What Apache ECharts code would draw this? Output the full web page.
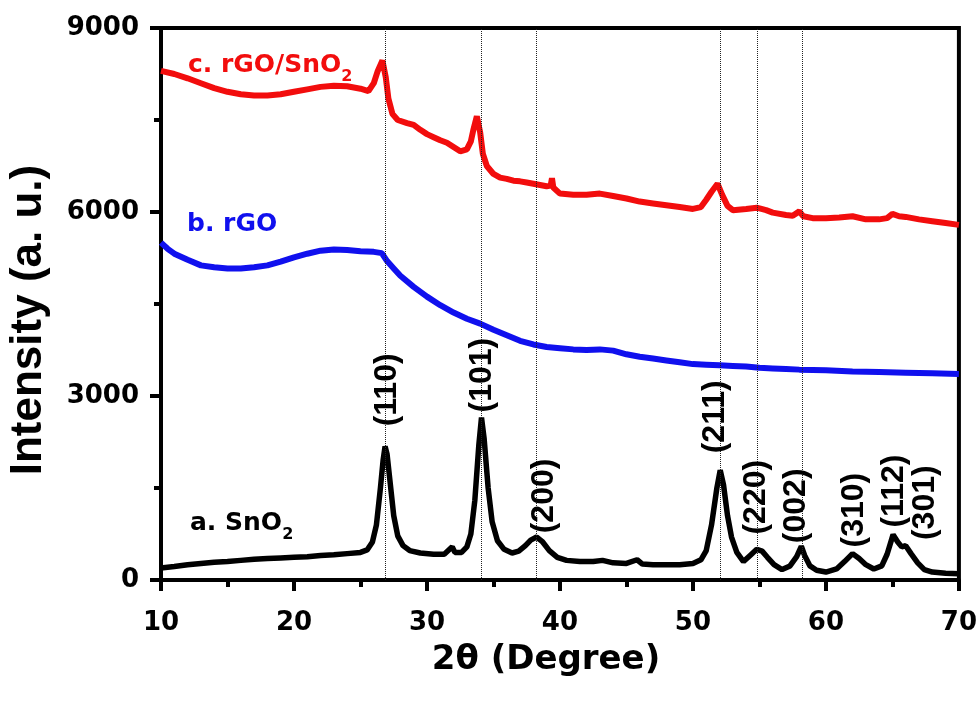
<!DOCTYPE html>
<html>
<head>
<meta charset="utf-8">
<script src="https://cdn.jsdelivr.net/npm/echarts@6/dist/echarts.min.js"></script>
<style>
  html, body { margin: 0; padding: 0; background: #fff; }
  #chart { width: 980px; height: 704px; }
</style>
</head>
<body>
<div id="chart"></div>
<script>
// XRD patterns: [2θ, intensity]
const sno2 = [
  [10.0, 195], [11.0, 220], [12.0, 250], [13.0, 270], [14.0, 290], [15.0, 300],
  [16.0, 320], [17.0, 340], [18.0, 350], [19.0, 360], [20.0, 370], [21.0, 380],
  [22.0, 400], [23.0, 410], [24.0, 430], [25.0, 450], [25.5, 490], [25.9, 620],
  [26.2, 900], [26.5, 1500], [26.7, 1950], [26.85, 2180], [27.0, 2050], [27.2, 1650],
  [27.5, 1050], [27.8, 720], [28.2, 560], [28.7, 480], [29.5, 440], [30.5, 420],
  [31.3, 420], [31.7, 500], [31.9, 540], [32.1, 450], [32.6, 450], [33.0, 540],
  [33.3, 750], [33.6, 1300], [33.9, 2200], [34.1, 2650], [34.3, 2300], [34.6, 1500],
  [34.9, 950], [35.3, 640], [35.8, 500], [36.4, 440], [36.9, 470], [37.4, 560],
  [37.8, 650], [38.25, 700], [38.7, 620], [39.2, 480], [39.8, 370], [40.5, 320],
  [41.5, 300], [42.5, 300], [43.2, 320], [44.0, 280], [45.0, 270], [45.8, 330],
  [46.2, 260], [47.0, 250], [48.0, 250], [49.0, 250], [50.0, 270], [50.6, 330],
  [51.0, 480], [51.4, 900], [51.8, 1500], [52.05, 1790], [52.3, 1550], [52.6, 1050],
  [52.9, 700], [53.3, 450], [53.8, 300], [54.3, 400], [54.8, 500], [55.2, 470],
  [55.6, 370], [56.1, 250], [56.7, 170], [57.3, 230], [57.8, 380], [58.15, 550],
  [58.4, 400], [58.8, 230], [59.3, 160], [60.0, 130], [60.8, 180], [61.4, 300],
  [62.0, 430], [62.5, 350], [63.0, 250], [63.6, 180], [64.2, 230], [64.6, 420],
  [65.05, 740], [65.4, 620], [65.7, 540], [66.0, 560], [66.4, 430], [66.9, 280],
  [67.4, 170], [68.0, 130], [69.0, 110], [70.0, 100]
];

const rgo = [
  [10.0, 5500], [10.5, 5400], [11.0, 5320], [12.0, 5220], [13.0, 5130], [14.0, 5100],
  [15.0, 5080], [16.0, 5080], [17.0, 5100], [18.0, 5130], [19.0, 5190], [20.0, 5260],
  [21.0, 5320], [22.0, 5370], [23.0, 5390], [24.0, 5380], [25.0, 5360], [26.0, 5350],
  [26.6, 5330], [27.0, 5200], [27.5, 5080], [28.0, 4960], [29.0, 4780], [30.0, 4620],
  [31.0, 4480], [32.0, 4360], [33.0, 4260], [34.0, 4180], [35.0, 4080], [36.0, 3990],
  [37.0, 3900], [38.0, 3840], [39.0, 3800], [40.0, 3780], [41.0, 3760], [42.0, 3750],
  [43.0, 3760], [44.0, 3740], [45.0, 3680], [46.0, 3640], [47.0, 3610], [48.0, 3580],
  [49.0, 3550], [50.0, 3520], [51.0, 3510], [52.0, 3500], [53.0, 3490], [54.0, 3480],
  [55.0, 3460], [56.0, 3450], [57.0, 3440], [58.0, 3430], [60.0, 3420], [62.0, 3400],
  [64.0, 3390], [66.0, 3380], [68.0, 3370], [70.0, 3360]
];

const rgoSno2 = [
  [10.0, 8300], [11.0, 8250], [12.0, 8180], [13.0, 8100], [14.0, 8020], [15.0, 7960],
  [16.0, 7920], [17.0, 7900], [18.0, 7900], [19.0, 7920], [20.0, 7960], [21.0, 8000],
  [22.0, 8040], [23.0, 8060], [24.0, 8050], [25.0, 8010], [25.6, 7970], [26.0, 8100],
  [26.3, 8300], [26.65, 8470], [26.9, 8200], [27.1, 7850], [27.4, 7600], [27.8, 7500],
  [28.5, 7450], [29.0, 7420], [29.5, 7340], [30.0, 7270], [30.5, 7220], [31.0, 7170],
  [31.5, 7130], [32.0, 7060], [32.5, 6990], [33.0, 7020], [33.3, 7150], [33.5, 7350],
  [33.75, 7560], [34.0, 7300], [34.2, 6950], [34.5, 6750], [35.0, 6620], [35.5, 6560],
  [36.0, 6540], [36.5, 6510], [37.0, 6500], [37.5, 6480], [38.0, 6460], [38.5, 6440],
  [39.0, 6420], [39.3, 6430], [39.4, 6550], [39.5, 6400], [40.0, 6300], [41.0, 6280],
  [42.0, 6280], [43.0, 6300], [44.0, 6260], [45.0, 6220], [46.0, 6170], [47.0, 6140],
  [48.0, 6110], [49.0, 6080], [50.0, 6050], [50.6, 6080], [51.0, 6200], [51.4, 6330],
  [51.85, 6460], [52.2, 6280], [52.6, 6100], [53.0, 6030], [54.0, 6050], [54.8, 6070],
  [55.5, 6030], [56.0, 5990], [57.0, 5950], [57.5, 5940], [58.0, 6010], [58.3, 5930],
  [59.0, 5900], [60.0, 5900], [61.0, 5910], [62.0, 5930], [63.0, 5880], [64.0, 5880],
  [64.6, 5900], [65.0, 5970], [65.5, 5930], [66.0, 5920], [67.0, 5880], [68.0, 5850],
  [69.0, 5820], [70.0, 5790]
];

// SnO2 reflections: dotted guide lines and (hkl) labels
const refLines = [26.85, 34.1, 38.25, 52.05, 54.8, 58.2];
const hklLabels = [
  [27.0, 3100, '(110)'], [34.15, 3340, '(101)'], [38.8, 1370, '(200)'],
  [51.66, 2660, '(211)'], [54.74, 1350, '(220)'], [57.74, 1210, '(002)'],
  [62.1, 1140, '(310)'], [65.1, 1450, '(112)'], [67.43, 1260, '(301)']
];

const FONT = 'DejaVu Sans';
const chart = echarts.init(document.getElementById('chart'));

const axisCommon = {
  type: 'value',
  axisLine: { lineStyle: { color: '#000', width: 4 } },
  axisTick: { length: 11, lineStyle: { color: '#000', width: 4 } },
  minorTick: { show: true, splitNumber: 2, length: 7, lineStyle: { color: '#000', width: 4 } },
  splitLine: { show: false },
  axisLabel: { color: '#000', fontFamily: FONT, fontWeight: 'bold', fontSize: 26, formatter: v => String(v) }
};

const subRich = (color) => ({
  m: { fontFamily: FONT, fontWeight: 'bold', fontSize: 25, fill: color, lineHeight: 28 },
  s: { fontFamily: FONT, fontWeight: 'bold', fontSize: 16, fill: color, lineHeight: 38, verticalAlign: 'bottom' }
});

chart.setOption({
  animation: false,
  grid: { left: 161, right: 20, top: 28, bottom: 124, show: true, borderColor: '#000', borderWidth: 4 },
  xAxis: Object.assign({}, axisCommon, {
    min: 10, max: 70, interval: 10,
    axisLabel: Object.assign({}, axisCommon.axisLabel, { margin: 30 })
  }),
  yAxis: Object.assign({}, axisCommon, {
    min: 0, max: 9000, interval: 3000,
    axisLabel: Object.assign({}, axisCommon.axisLabel, { margin: 22 })
  }),
  series: [
    {
      name: 'rGO/SnO2', type: 'line', data: rgoSno2, showSymbol: false,
      lineStyle: { color: '#f20d0d', width: 6 }
    },
    {
      name: 'rGO', type: 'line', data: rgo, showSymbol: false,
      lineStyle: { color: '#1010ee', width: 6 }
    },
    {
      name: 'SnO2', type: 'line', data: sno2, showSymbol: false,
      lineStyle: { color: '#000', width: 5.5 },
      markLine: {
        silent: true, symbol: 'none', label: { show: false },
        lineStyle: { color: '#222', width: 1, type: 'dotted' },
        data: refLines.map(v => ({ xAxis: v }))
      }
    },
    {
      name: 'hkl', type: 'scatter', data: hklLabels, symbol: 'circle', symbolSize: 0.1,
      itemStyle: { color: '#fff', opacity: 1 }, silent: true, z: 5,
      label: {
        show: true, position: 'inside', rotate: 90, opacity: 1,
        formatter: p => p.data[2],
        color: '#000', textBorderWidth: 0,
        fontFamily: 'Liberation Sans', fontWeight: 'bold', fontSize: 32
      }
    }
  ],
  graphic: [
    {
      type: 'text', left: 188, top: 53, silent: true,
      style: { text: '{m|c. rGO/SnO}{s|2}', rich: subRich('#f20d0d') }
    },
    {
      type: 'text', left: 187, top: 212, silent: true,
      style: { text: 'b. rGO', fill: '#1010ee', font: 'bold 25px "DejaVu Sans"' }
    },
    {
      type: 'text', left: 190, top: 511, silent: true,
      style: { text: '{m|a. SnO}{s|2}', rich: subRich('#000') }
    },
    {
      type: 'text', x: 546, y: 660, silent: true,
      style: { text: '2θ (Degree)', fill: '#000', font: 'bold 34px "DejaVu Sans"', align: 'center', verticalAlign: 'middle' }
    },
    {
      type: 'text', x: 29, y: 320, rotation: Math.PI / 2, silent: true,
      style: { text: 'Intensity (a. u.)', fill: '#000', font: 'bold 44px "Liberation Sans"', align: 'center', verticalAlign: 'middle' }
    }
  ]
});
</script>
</body>
</html>
